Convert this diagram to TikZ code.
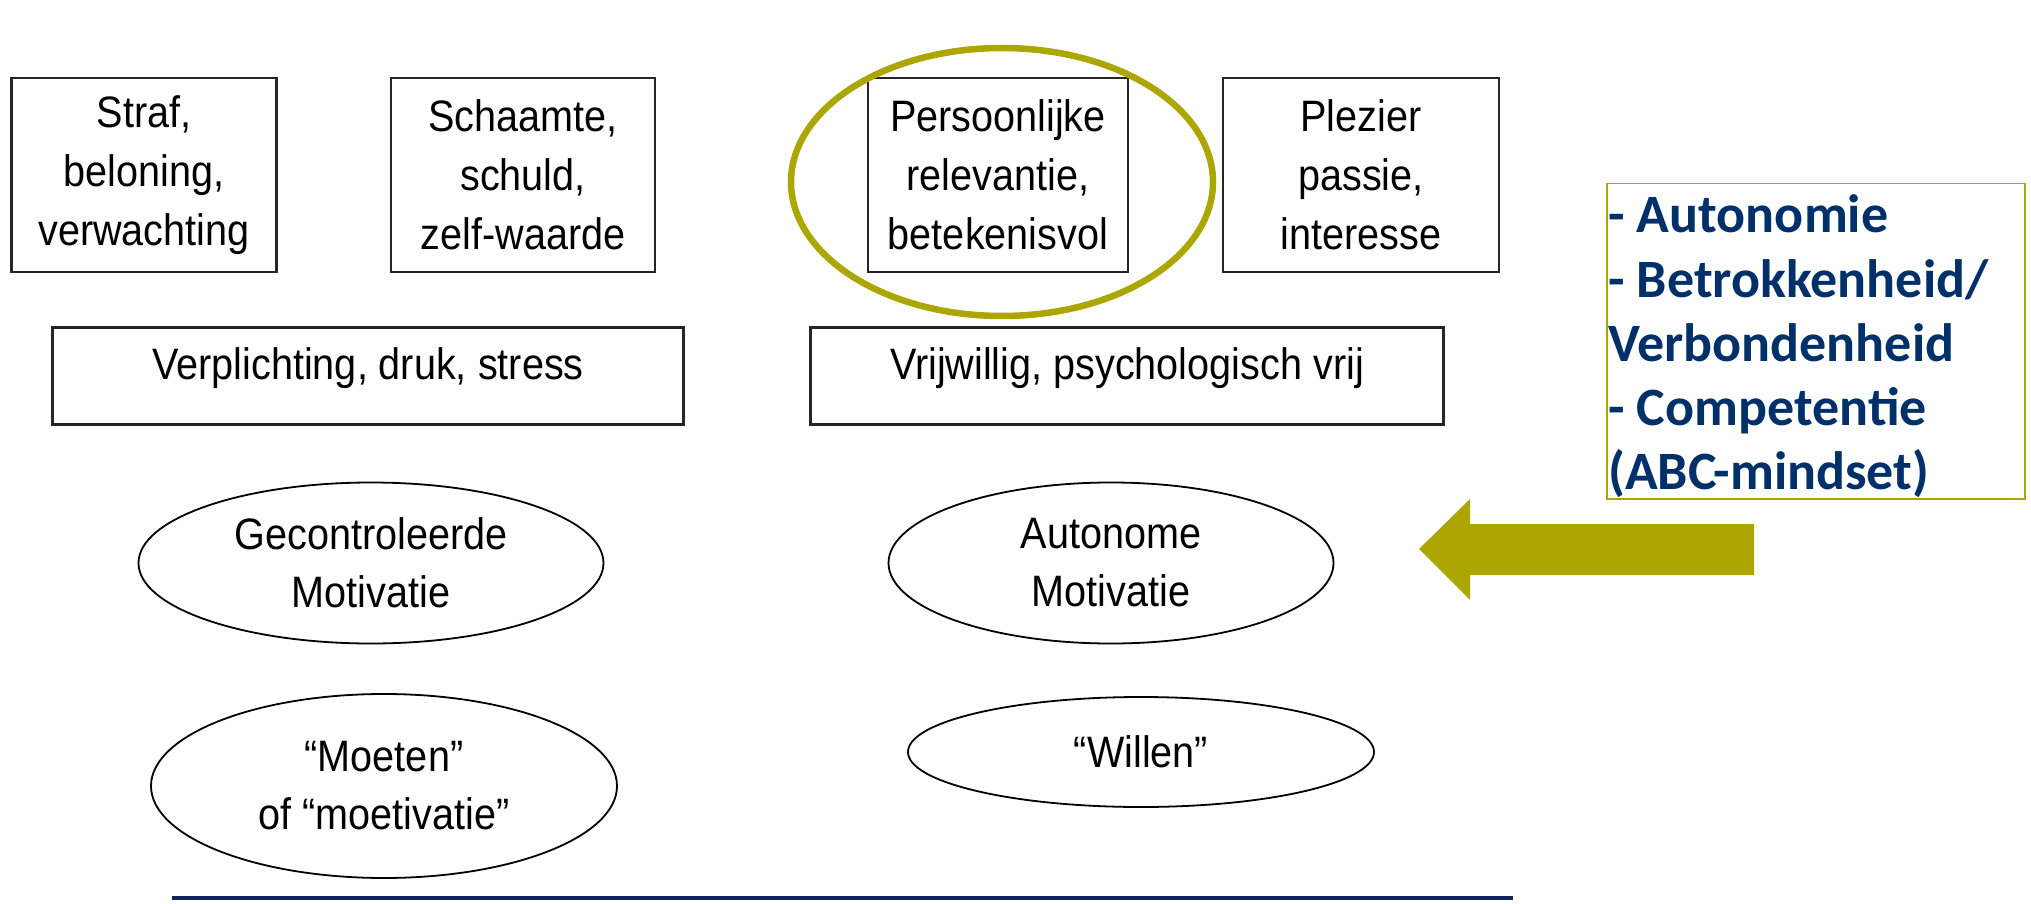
\documentclass[tikz,border=0pt]{standalone}
\usepackage{fontspec}
\setmainfont{Liberation Sans}[FakeStretch=0.9]
\newfontfamily\calib{Carlito}
\usetikzlibrary{shapes.geometric}
\definecolor{olivey}{RGB}{172,166,0}
\definecolor{navytext}{RGB}{0,48,105}
\definecolor{navyline}{RGB}{22,34,94}
\begin{document}
\begin{tikzpicture}[x=1pt,y=-1pt,
  box/.style={draw=black!85, line width=2.4pt, rectangle, inner sep=0pt, align=center,
    font=\fontsize{44}{59}\selectfont},
  oval/.style={draw=black, line width=1.8pt, ellipse, inner sep=0pt, align=center,
    font=\fontsize{44}{58}\selectfont},
  txt/.style={inner sep=0pt, align=center, font=\fontsize{44}{59}\selectfont},
  abc/.style={anchor=base west, inner sep=0pt, text=navytext,
    font=\calib\bfseries\fontsize{54}{64}\selectfont}]
\useasboundingbox (0,0) rectangle (2031,904);
% top row boxes
\node[box, minimum width=265pt, minimum height=194pt] (straf) at (144,175) {Straf,\\beloning,\\verwachting};
\node[box, minimum width=264pt, minimum height=194pt] (schaamte) at (523,175) {Schaamte,\\schuld,\\zelf-waarde};
\node[box, minimum width=260pt, minimum height=194pt] (pers) at (998,175) {Persoonlijke\\relevantie,\\betekenisvol};
\node[box, minimum width=276pt, minimum height=194pt] (plezier) at (1361,175) {Plezier\\passie,\\interesse};
% highlight ellipse
\node[draw=olivey, line width=6.5pt, ellipse, minimum width=422pt, minimum height=268pt, inner sep=0pt] (hl) at (1002,182) {};
% middle boxes
\node[box, minimum width=631pt, minimum height=97pt] (verpl) at (368,376) {};
\node[txt] (verplT) at (368,368) {Verplichting, druk, stress};
\node[box, minimum width=633pt, minimum height=97pt] (vrij) at (1127,376) {};
\node[txt] (vrijT) at (1127,368) {Vrijwillig, psychologisch vrij};
% ellipses
\node[oval, minimum width=465pt, minimum height=161pt] (gecon) at (371,563) {Gecontroleerde\\Motivatie};
\node[oval, minimum width=445pt, minimum height=161pt] (auton) at (1111,563) {Autonome\\Motivatie};
\node[oval, minimum width=466pt, minimum height=184pt] (moeten) at (384,786) {“Moeten”\\of “moetivatie”};
\node[oval, minimum width=466pt, minimum height=110pt] (willen) at (1141,752) {“Willen”};
% arrow
\fill[olivey] (1754,524) -- (1470,524) -- (1470,499) -- (1419,549) -- (1470,600) -- (1470,575) -- (1754,575) -- cycle;
% ABC box
\node[draw=olivey, line width=1.5pt, rectangle, inner sep=0pt, minimum width=418pt, minimum height=315pt, anchor=north west] (abcbox) at (1606,183) {};
\node[abc] (l1) at (1608,233) {- Autonomie};
\node[abc] (l2) at (1608,297) {- Betrokkenheid/};
\node[abc] (l3) at (1608,361) {Verbondenheid};
\node[abc] (l4) at (1608,425) {- Competentie};
\node[abc] (l5) at (1608,489) {(ABC-mindset)};
% bottom rule
\draw[navyline, line width=4pt] (172,898) -- (1513,898);
\end{tikzpicture}
\end{document}
